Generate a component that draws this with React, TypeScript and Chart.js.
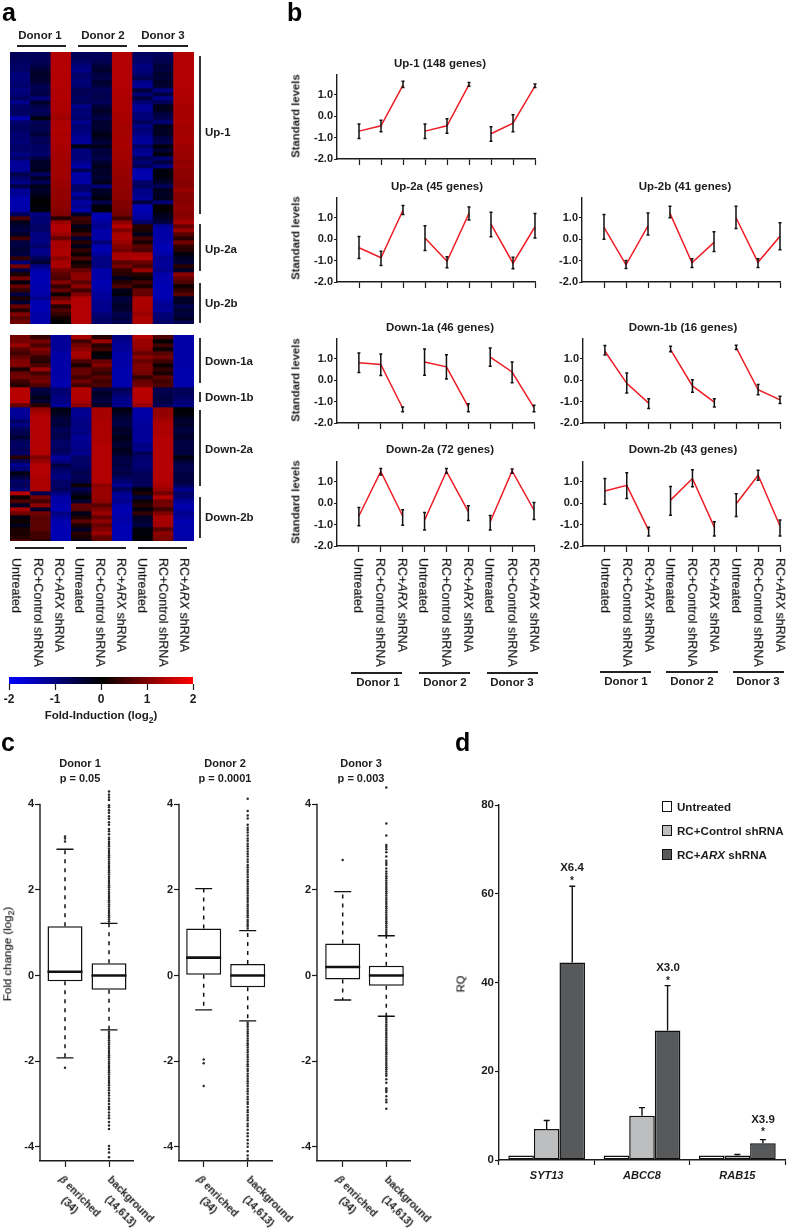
import React, { useEffect, useRef } from "react";
import { Chart, registerables } from "chart.js";
Chart.register(...registerables);

const FONT = '"Liberation Sans", Arial, sans-serif';
const INK = "#1c1c1c";

// ---------- panel a: heat map values (log2 fold induction), one row per band ----------
const heatColumns = ["D1 Untreated", "D1 Control", "D1 ARX", "D2 Untreated", "D2 Control", "D2 ARX", "D3 Untreated", "D3 Control", "D3 ARX"];
const up1Rows = [
  [-.7,-.7,1.4,-.7,-.7,1.4,-.75,-.7,1.4],[-.7,-.7,1.4,-.7,-.7,1.4,-.8,-.65,1.4],[-.75,-.65,1.4,-.8,-.6,1.4,-.85,-.6,1.4],
  [-.8,-.55,1.4,-.95,-.45,1.4,-1,-.45,1.4],[-.8,-.4,1.4,-1.05,-.35,1.4,-.95,-.5,1.4],[-.95,-.3,1.4,-.8,-.5,1.4,-.85,-.35,1.4],
  [-.95,-.35,1.4,-.85,-.55,1.4,-.6,-.45,1.4],[-.9,-.4,1.4,-.95,-.35,1.4,-1.1,-.3,1.4],[-.85,-.65,1.4,-.85,-.5,1.4,-1.15,-.4,1.4],
  [-1,-.6,1.38,-.65,-.7,1.38,-.45,-1,1.38],[-.9,-.55,1.38,-.7,-.6,1.38,-.9,-.5,1.38],[-.75,-.95,1.38,-.75,-.6,1.35,-.5,-1.05,1.35],
  [-1.1,-.35,1.36,-.7,-.7,1.35,-.9,-.7,1.35],[-.8,-.55,1.36,-1.05,-.45,1.35,-1.2,-.2,1.32],[-.75,-.7,1.36,-.9,-.3,1.35,-1.15,-.25,1.3],
  [-.8,-.6,1.3,-.95,-.4,1.32,-.95,-.5,1.3],[-1.35,-.15,1.25,-.85,-.55,1.32,-.95,-.6,1.3],[-.85,-.7,1.35,-1.1,-.35,1.3,-.7,-.9,1.35],
  [-.75,-.6,1.35,-.9,-.4,1.28,-1.05,-.2,1.28],[-.75,-.65,1.38,-.95,-.35,1.3,-.9,-.3,1.28],[-.9,-.45,1.35,-1.05,-.15,1.28,-1.05,-.25,1.26],
  [-.85,-.7,1.35,-1.15,-.3,1.3,-1.2,-.55,1.3],[-.95,-.65,1.35,-1.2,-.45,1.3,-1.25,-.6,1.3],[-.8,-.8,1.3,-.15,-.2,1.3,-.8,-.1,1.25],
  [-.85,-.75,1.3,-.95,-.5,1.28,-1.1,-.4,1.22],[-1,-.85,1.28,-.95,-.45,1.28,-1.15,-.1,1.2],[-.8,-.5,1.28,-.95,-.6,1.26,-.7,-.85,1.2],
  [-1.2,-.3,1.26,-1.1,-.4,1.25,-.9,-.5,1.12],[-1.2,-.3,1.26,-1.3,-.2,1.22,-.7,-1,1.18],[-1.15,-.25,1.26,-.7,-.35,1.2,-1.35,-.1,1.1],
  [-.6,-.75,1.25,-1.3,-.3,1.18,-1.35,-.1,1.1],[-.85,-.3,1.25,-1.25,-.4,1.15,-1.35,-.15,1.1],[-1.05,-.7,1.2,-1.3,-.2,1.15,-.8,-.35,1.05],
  [-.55,-.2,1.2,-.8,-.9,1.15,-.75,-.7,1.05],[-1.2,-.35,1.15,-.85,-.3,1.12,-1.05,-.2,1.2],[-1.15,-.25,1.15,-1.25,-.25,1.1,-1.05,-.3,1.05],
  [-1.35,-.05,1.15,-.9,-.1,1.1,-1.2,-.2,1.05],[-1.35,0,1.12,-1.25,-.6,1,-.5,-.9,1.05],[-1.35,-.05,1.1,-1.1,-.1,1,-1.4,.05,1.1],
  [-1.3,-.1,1.05,-1.3,0,.95,-1.4,.05,1.1],[-.7,-1,1,-.3,-1.35,.9,-1.3,-.2,1.05],[.6,-.9,.3,.5,-1.4,.5,-1.2,-.3,1.1],
];
const up2aRows = [
  [-.2,-.9,1.2,.4,-1.2,1.1,-.8,-.5,1.3],[-.4,-.8,1.4,-.2,-1.1,1.4,.3,-1.2,.8],[-.5,-.8,1.4,.1,-1.3,1,.2,-1.3,1.2],
  [-.3,-1,1.2,.5,-1.3,1.3,-.2,-1.3,.7],[.5,-1,.8,-.4,-1.3,1.3,.5,-1.3,.3],[-.5,-1,1.3,.3,-.9,1.2,.2,-1.3,.9],
  [-.5,-.8,1.3,-.2,-1.35,1,.7,-1.4,.4],[-.4,-1.1,1.35,.4,-1.4,.9,.6,-1.4,.3],[-.5,-1,1.35,.1,-1.2,1.3,1.3,-1.3,-.1],
  [.4,-.7,1.1,.6,-1,1.3,1.4,-1.1,-.3],[-.9,-.4,1.3,.1,-1,.7,.8,-1.2,-.4],[.9,-1,1.3,.3,-1,.9,.6,-1.2,.3],[-.5,-1.3,.9,.8,-1.3,.4,1.2,-1.1,-.3],
];
const up2bRows = [
  [.2,-1.4,.7,1.1,-1.3,.3,.3,-1.3,1.1],[.9,-1.4,.6,1.1,-1.3,-.2,.1,-1.35,.8],[-.1,-1.4,1,.7,-1.4,.3,.5,-1.35,.6],
  [.8,-1.35,.4,1.1,-1.35,.6,.2,-1.4,.1],[.4,-1.35,.8,.5,-1.3,-.2,.8,-1.4,.4],[-.5,-1.3,.1,1,-1.2,-.1,.8,-1.4,.7],
  [.2,-1.1,.8,1.4,-1.2,-.5,1.35,-1.4,-.3],[-.4,-1.4,1.2,1.4,-1.1,-.4,1.35,-1.2,-.3],[.8,-1.4,.3,1.4,-1.1,-.3,1.35,-1.1,-.6],
  [.3,-1.4,.6,1.4,-1.1,-.4,1.3,-1.2,-.4],[1,-1.3,.4,1.4,-.9,-.6,1.2,-.9,-.5],[.7,-1.3,.1,1.4,-.8,-.5,1.35,-.9,-.3],[.9,-1.3,0,1.4,-.8,-.6,1.35,-.8,-.6],
];
const down1aRows = [
  [.9,.4,-1.2,1.3,.3,-1,1.4,.6,-1.3],[.9,.9,-1.2,.5,1.2,-1.1,1.2,0,-1.3],[1.2,.6,-1.2,.9,.3,-1.2,1.2,.5,-1.3],[.7,1,-1.2,1.1,.5,-1.2,1.1,.1,-1.3],
  [.5,.8,-1.3,1.3,0,-1.3,.8,.7,-1.3],[.8,.4,-1.3,1.2,-.1,-1.3,1.1,.9,-1.3],[1,.3,-1.3,.6,.8,-1.3,.8,.5,-1.3],[1,.6,-1.3,.2,1,-1.3,1,.1,-1.3],
  [.2,1.2,-1.3,.8,.6,-1.35,1,.4,-1.35],[.8,.5,-1.3,.8,.4,-1.35,.9,.2,-1.35],[.9,.8,-1.3,.5,.7,-1.35,.4,.7,-1.35],[.5,.9,-1.35,.9,.5,-1.35,.8,.5,-1.35],[.3,.6,-1.35,.5,.6,-1.35,.9,.6,-1.35],
];
const down1bRows = [
  [1.45,-.5,-.9,1.4,-.5,-.7,1.45,-.6,-.7],[1.45,-.45,-.9,1.4,-.3,-.8,1.45,-.6,-.7],[1.45,-.2,-1,1.4,-.4,-1,1.45,-.5,-.75],[1.4,-.4,-1,1.3,-.5,-1.05,1.4,-.55,-.9],[.8,.3,-1.2,1.1,-.3,-1.1,1.2,-.7,-1],
];
const down2aRows = [
  [-1.2,1.15,-.15,-1.1,1.3,-.1,-1.3,1.15,0],[-1.2,1.3,-.2,-1.15,1.3,-.25,-1.3,1.15,-.05],[-1.15,1.4,-.4,-1.1,1.3,-.4,-1.3,1.2,-.2],
  [-.8,1.4,-.5,-1,1.35,-.5,-1.25,1.3,-.4],[-1,1.4,-.45,-1,1.35,-.5,-1.2,1.35,-.3],[-.7,1.4,-.7,-1.05,1.35,-.3,-1.2,1.35,-.5],
  [-.6,1.4,-.6,-1,1.35,-.35,-1.2,1.35,-.45],[-.4,1.4,-.6,-1.2,1.35,-.2,-1.2,1.4,-.3],[-.7,1.4,-.8,-1.1,1.35,-.3,-1.2,1.4,-.5],
  [-.8,1.4,-.8,-1.1,1.4,-.4,-1,1.4,-.5],[-.7,1.4,-.7,-1,1.4,-.2,-1.1,1.4,-.5],[-.8,1.4,-.8,-1.1,1.4,-.3,-.7,1.4,-.5],
  [.3,1,-1.2,-.8,1.4,-.5,-.8,1.4,-.15],[-.7,1.2,-1,-.8,1.4,-.55,-.9,1.4,-.4],[-1.1,1.4,-.5,-.8,1.4,-.5,-.9,1.4,-.6],
  [-.9,1.4,-.8,-.7,1.4,-.6,-.8,1.4,-.6],[-.15,1.4,-.9,-.6,1.4,-.5,-.7,1.4,-.5],[-.5,1.35,-1,-.7,1.4,-.7,-.7,1.4,-.5],
  [-.8,1.35,-.8,-.6,1.4,-.9,-.7,1.4,-.5],[-.7,1.35,-.8,.1,1.1,-1.1,-.7,1.35,-.7],[-.9,1.35,-.7,-.6,1.2,-.7,-.1,1.2,-1.1],
];
const down2bRows = [
  [1.4,-.6,-1,-.3,1.2,-1.1,.2,.9,-.8],[.1,.9,-1.3,0,1.2,-1.2,-.5,1.4,-.9],[.6,.5,-1.3,-.4,1.1,-1.1,.1,.9,-1.2],[-.3,1.1,-1.35,.8,.7,-1.3,.3,.9,-1.35],
  [1.3,-.3,-1.4,.7,1,-1.4,-.1,.5,-1.3],[.9,.9,-1,-.2,1.2,-1.35,.4,1,-1.1],[-.1,.7,-1.2,.2,.8,-1.3,-.3,1.3,-1.2],[.1,.7,-1.35,.7,1.1,-1.3,-.4,1.3,-1.4],
  [-.2,.7,-1.4,.2,.8,-1.4,-.5,1.25,-1.3],[.2,.7,-1.4,-.3,1,-1.4,-.1,.7,-1.35],[.2,.5,-1.4,.3,1.2,-1.4,-.1,1.1,-1.35],[.3,.5,-1.4,.2,.8,-1.4,0,1,-1.3],[.6,.2,-1.4,-.2,.7,-1.4,-.1,.9,-1.3],
];

// ---------- panel b: standard levels (mean, low, high) ----------
const yTicksB = [-2, -1, 0, 1];
const up1Mean = [-.7,-.45,1.45,-.7,-.45,1.47,-.82,-.33,1.4];
const up1Low = [-1.04,-.73,1.34,-1.04,-.8,1.4,-1.17,-.73,1.34];
const up1High = [-.37,-.19,1.63,-.37,-.12,1.57,-.5,.06,1.5];
const up2aMean = [-.4,-.87,1.35,.05,-1.03,1.2,.7,-1.12,.58];
const up2aLow = [-.9,-1.23,1.15,-.53,-1.34,.89,.11,-1.38,.05];
const up2aHigh = [.12,-.56,1.57,.62,-.82,1.5,1.26,-.85,1.2];
const up2bMean = [.55,-1.2,.62,1.2,-1.1,-.15,1,-1.08,.13];
const up2bLow = [0,-1.37,.19,1,-1.32,-.58,.5,-1.32,-.5];
const up2bHigh = [1.15,-1,1.22,1.53,-.92,.34,1.53,-.92,.77];
const down1aMean = [.81,.73,-1.3,.85,.62,-1.25,1.07,.38,-1.28];
const down1aLow = [.36,.22,-1.47,.23,.05,-1.47,.65,-.12,-1.47];
const down1aHigh = [1.27,1.22,-1.25,1.45,1.18,-1.1,1.5,.85,-1.17];
const down1bMean = [1.35,-.15,-1.07,1.42,-.27,-1.03,1.52,-.45,-.92];
const down1bLow = [1.17,-.6,-1.32,1.32,-.57,-1.25,1.43,-.68,-1.09];
const down1bHigh = [1.62,.33,-.87,1.58,.02,-.87,1.63,-.2,-.75];
const down2aMean = [-.6,1.48,-.6,-.8,1.48,-.4,-.87,1.5,-.33];
const down2aLow = [-1.06,1.31,-1.03,-1.25,1.39,-.81,-1.25,1.4,-.76];
const down2aHigh = [-.2,1.62,-.31,-.44,1.62,-.12,-.58,1.59,.03];
const down2bMean = [.57,.83,-1.27,.14,1.15,-1.12,-.03,1.3,-1.07];
const down2bLow = [-.05,.22,-1.53,-.56,.76,-1.53,-.62,1.07,-1.53];
const down2bHigh = [1.15,1.42,-1.12,.78,1.56,-.87,.44,1.53,-.79];

// ---------- panel c: box plots ----------
const yTicksC = [-4, -2, 0, 2, 4];
// [whisker low, q1, median, q3, whisker high]
const d1Beta = [-1.92, -.13, .09, 1.15, 2.95];
const d1Back = [-1.27, -.33, 0, .29, 1.22];
const d2Beta = [-.8, .02, .42, 1.1, 2.03];
const d2Back = [-1.06, -.27, 0, .27, 1.05];
const d3Beta = [-.57, -.09, .2, .75, 1.96];
const d3Back = [-.95, -.24, 0, .23, .93];
const d1BetaOut = [3.13, 3.2, 3.25, -2.15];
const d1BackOut = [1.26,1.31,1.36,1.41,1.46,1.51,1.56,1.61,1.66,1.71,1.76,1.81,1.86,1.91,1.96,2.01,2.06,2.11,2.16,2.21,2.26,2.31,2.36,2.41,2.46,2.51,2.56,2.61,2.66,2.71,2.76,2.81,2.86,2.91,2.96,3.02,3.07,3.12,3.18,3.22,3.3,3.37,3.42,3.52,3.58,3.66,3.72,3.8,3.86,3.93,3.98,4.1,4.16,4.22,4.3,
  -1.31,-1.36,-1.41,-1.46,-1.51,-1.56,-1.61,-1.66,-1.71,-1.76,-1.81,-1.86,-1.91,-1.96,-2.01,-2.06,-2.11,-2.16,-2.21,-2.26,-2.31,-2.36,-2.41,-2.46,-2.51,-2.56,-2.62,-2.68,-2.74,-2.8,-2.87,-2.93,-3,-3.07,-3.12,-3.2,-3.27,-3.33,-3.42,-3.5,-3.58,-3.98,-4.05,-4.13,-4.24];
const d2BetaOut = [-1.96, -2.05, -2.58];
const d2BackOut = [1.1,1.15,1.2,1.25,1.3,1.36,1.41,1.46,1.51,1.56,1.61,1.66,1.72,1.77,1.82,1.87,1.93,1.98,2.03,2.08,2.14,2.19,2.24,2.3,2.36,2.42,2.47,2.53,2.58,2.65,2.71,2.78,2.84,2.9,2.96,3.02,3.08,3.15,3.2,3.27,3.34,3.4,3.45,3.52,3.67,3.74,3.84,4.13,
  -1.1,-1.15,-1.2,-1.26,-1.31,-1.36,-1.41,-1.47,-1.52,-1.58,-1.63,-1.68,-1.74,-1.79,-1.85,-1.9,-1.96,-2.01,-2.07,-2.12,-2.18,-2.23,-2.29,-2.35,-2.41,-2.47,-2.52,-2.58,-2.64,-2.7,-2.76,-2.83,-2.89,-2.95,-3,-3.07,-3.14,-3.19,-3.26,-3.32,-3.38,-3.46,-3.52,-3.6,-3.68,-3.75,-3.84,-3.92,-4,-4.1,-4.2,-4.28];
const d3BetaOut = [2.7];
const d3BackOut = [.97,1.02,1.07,1.12,1.17,1.22,1.27,1.32,1.37,1.42,1.47,1.52,1.57,1.62,1.67,1.72,1.77,1.82,1.87,1.92,1.97,2.02,2.07,2.12,2.17,2.22,2.27,2.32,2.38,2.43,2.5,2.58,2.63,2.68,2.78,2.88,2.95,3,3.05,3.27,3.55,4.39,
  -.99,-1.04,-1.09,-1.14,-1.19,-1.24,-1.29,-1.34,-1.39,-1.44,-1.49,-1.54,-1.59,-1.64,-1.69,-1.74,-1.79,-1.84,-1.89,-1.94,-1.99,-2.04,-2.09,-2.14,-2.19,-2.24,-2.29,-2.34,-2.42,-2.5,-2.63,-2.68,-2.72,-2.82,-2.9,-2.96,-3.11];

// ---------- panel d: RQ ----------
const genes = ["SYT13", "ABCC8", "RAB15"];
const yTicksD = [0, 20, 40, 60, 80];
const untreated = [1, 1, 1];
const controlSh = [7, 10, 1];
const arxSh = [44.5, 29.2, 3.8];
const untreatedErrTop = [1, 1, 1];
const controlErrTop = [8.9, 11.8, 1.25];
const arxErrTop = [61.7, 39.3, 4.6];

const heatColor = (v: number) => {
  const c = Math.round(Math.min(Math.abs(v) / 2, 1) * 255);
  return v >= 0 ? `rgb(${c},0,0)` : `rgb(0,0,${c})`;
};

type Box = { left: number; top: number; w: number; h: number; ml: number; mt: number; mr: number; mb: number };

function ChartBox({ box, make }: { box: Box; make: () => any }) {
  const ref = useRef<HTMLCanvasElement>(null);
  useEffect(() => {
    const cfg = make();
    cfg.options = {
      responsive: false,
      maintainAspectRatio: false,
      animation: false,
      devicePixelRatio: 1,
      layout: { padding: { left: 0, top: box.mt, right: box.mr, bottom: 0 } },
      ...cfg.options,
    };
    cfg.options.plugins = { legend: { display: false }, tooltip: { enabled: false }, ...(cfg.options.plugins || {}) };
    const chart = new Chart(ref.current as HTMLCanvasElement, cfg);
    return () => chart.destroy();
  }, []);
  return (
    <canvas
      ref={ref}
      width={box.ml + box.w + box.mr}
      height={box.mt + box.h + box.mb}
      style={{ position: "absolute", left: box.left - box.ml, top: box.top - box.mt, width: box.ml + box.w + box.mr, height: box.mt + box.h + box.mb }}
    />
  );
}

const yAxis = (box: Box, min: number, max: number, ticks: number[], size: number, tickLen: number, cb?: (v: number) => string) => ({
  type: "linear",
  position: "left",
  min,
  max,
  afterBuildTicks: (s: any) => { s.ticks = ticks.map((value) => ({ value })); },
  afterFit: (s: any) => { s.width = box.ml; },
  border: { display: true, color: INK, width: 1.4 },
  grid: { offset: false, drawOnChartArea: false, drawTicks: true, tickLength: tickLen, color: INK, tickWidth: 1.2 },
  ticks: { color: INK, padding: 1, autoSkip: false, font: { family: FONT, weight: "bold", size }, callback: cb || ((v: number) => String(v)) },
});

const xLinear = (box: Box, min: number, max: number, ticks: number[], tickLen: number) => ({
  type: "linear",
  position: "bottom",
  offset: false,
  min,
  max,
  afterBuildTicks: (s: any) => { s.ticks = ticks.map((value) => ({ value })); },
  afterFit: (s: any) => { s.height = box.mb; },
  border: { display: true, color: INK, width: 1.4 },
  grid: { offset: false, drawOnChartArea: false, drawTicks: true, tickLength: tickLen, color: INK, tickWidth: 1.2 },
  ticks: { display: false, autoSkip: false },
});

function heatConfig(rows: number[][]) {
  return () => ({
    type: "bar",
    data: {
      labels: heatColumns,
      datasets: rows.map((r) => ({
        data: r.map(() => 1),
        backgroundColor: r.map(heatColor),
        borderWidth: 0,
        barPercentage: 1,
        categoryPercentage: 1,
      })),
    },
    options: {
      layout: { padding: 0 },
      scales: {
        x: { stacked: true, display: false },
        y: { stacked: true, display: false, reverse: true, min: 0, max: rows.length === 52 ? 51.5 : rows.length },
      },
    },
  });
}

const xPositions = [1, 2, 3, 4, 5, 6, 7, 8, 9];

function levelConfig(box: Box, mean: number[], low: number[], high: number[]) {
  return () => ({
    type: "line",
    data: {
      datasets: [0, 3, 6].map((s) => ({
        data: [0, 1, 2].map((i) => ({ x: xPositions[s + i], y: mean[s + i] })),
        borderColor: "#ee1c25",
        borderWidth: 1.5,
        pointRadius: 0,
        tension: 0,
      })),
    },
    options: {
      scales: {
        x: xLinear(box, 0, 9, xPositions, 6),
        y: yAxis(box, -2, 1.92, yTicksB, 11, 3, (v: number) => v.toFixed(1)),
      },
    },
    plugins: [{
      id: "errs",
      afterDatasetsDraw(c: any) {
        const g = c.ctx;
        g.save();
        g.strokeStyle = "#111";
        g.lineWidth = 1.5;
        xPositions.forEach((p, i) => {
          const x = c.scales.x.getPixelForValue(p);
          const a = c.scales.y.getPixelForValue(low[i]);
          const b = c.scales.y.getPixelForValue(high[i]);
          g.beginPath();
          g.moveTo(x, a); g.lineTo(x, b);
          g.moveTo(x - 1.5, a); g.lineTo(x + 1.5, a);
          g.moveTo(x - 1.5, b); g.lineTo(x + 1.5, b);
          g.stroke();
        });
        g.restore();
      },
    }],
  });
}

function boxConfig(box: Box, xMin: number, xMax: number, beta: number[], back: number[], betaOut: number[], backOut: number[]) {
  const stats = [beta, back];
  const y = yAxis(box, -4.33, 4.45, yTicksC, 11, 5);
  y.border = { display: false, color: INK, width: 1.4 };
  return () => ({
    type: "bar",
    data: {
      datasets: [
        {
          type: "scatter",
          data: [...betaOut.map((v) => ({ x: 1, y: v })), ...backOut.map((v) => ({ x: 2, y: v }))],
          pointRadius: 1.25,
          pointBackgroundColor: "#2a2a2a",
          pointBorderWidth: 0,
        },
        {
          type: "bar",
          data: stats.map((s, i) => ({ x: i + 1, y: [s[1], s[3]] })),
          backgroundColor: "#ffffff",
          borderColor: "#111",
          borderWidth: 1.5,
          borderSkipped: false,
          barThickness: 35,
          inflateAmount: 0,
        },
      ],
    },
    options: {
      scales: {
        x: xLinear(box, xMin, xMax, [1, 2], 6),
        y,
      },
    },
    plugins: [{
      id: "boxParts",
      afterDatasetsDraw(c: any) {
        const g = c.ctx;
        const Y = c.scales.y;
        const X = c.scales.x;
        g.save();
        g.strokeStyle = INK;
        g.lineWidth = 1.4;
        g.beginPath();
        g.moveTo(c.chartArea.left, Y.getPixelForValue(4) - 0.6);
        g.lineTo(c.chartArea.left, c.chartArea.bottom);
        g.stroke();
        stats.forEach((s, i) => {
          const x = X.getPixelForValue(i + 1);
          g.strokeStyle = "#111";
          g.lineWidth = 1.5;
          g.setLineDash([4, 5]);
          g.beginPath();
          g.moveTo(x, Y.getPixelForValue(s[3])); g.lineTo(x, Y.getPixelForValue(s[4]));
          g.moveTo(x, Y.getPixelForValue(s[1])); g.lineTo(x, Y.getPixelForValue(s[0]));
          g.stroke();
          g.setLineDash([]);
          g.lineWidth = 1.3;
          g.beginPath();
          [s[0], s[4]].forEach((v) => {
            g.moveTo(x - 8.5, Y.getPixelForValue(v)); g.lineTo(x + 8.5, Y.getPixelForValue(v));
          });
          g.stroke();
          g.lineWidth = 2.6;
          g.beginPath();
          g.moveTo(x - 17.5, Y.getPixelForValue(s[2])); g.lineTo(x + 17.5, Y.getPixelForValue(s[2]));
          g.stroke();
        });
        g.restore();
      },
    }],
  });
}

function rqConfig(box: Box) {
  const tops = [untreatedErrTop, controlErrTop, arxErrTop];
  const ds = (data: number[], fill: string) => ({
    data,
    backgroundColor: fill,
    borderColor: "#111",
    borderWidth: 1.5,
    borderSkipped: false,
    barPercentage: 1,
    categoryPercentage: 0.805,
    inflateAmount: 0,
  });
  return () => ({
    type: "bar",
    data: { labels: genes, datasets: [ds(untreated, "#ffffff"), ds(controlSh, "#bcbec0"), ds(arxSh, "#58595b")] },
    options: {
      scales: {
        x: {
          type: "category",
          position: "bottom",
          afterFit: (s: any) => { s.height = box.mb; },
          border: { display: true, color: INK, width: 1.4 },
          grid: { offset: true, drawOnChartArea: false, drawTicks: true, tickLength: 5, color: INK, tickWidth: 1.2 },
          ticks: { color: INK, padding: 4, maxRotation: 0, font: { family: FONT, weight: "bold", style: "italic", size: 11 } },
        },
        y: yAxis(box, 0, 80, yTicksD, 11.5, 4),
      },
    },
    plugins: [{
      id: "rqErr",
      afterDatasetsDraw(c: any) {
        const g = c.ctx;
        g.save();
        g.strokeStyle = "#111";
        g.lineWidth = 1.4;
        [1, 2].forEach((d) => {
          c.getDatasetMeta(d).data.forEach((bar: any, j: number) => {
            const y = c.scales.y.getPixelForValue(tops[d][j]);
            g.beginPath();
            g.moveTo(bar.x, bar.y); g.lineTo(bar.x, y);
            g.moveTo(bar.x - 3, y); g.lineTo(bar.x + 3, y);
            g.stroke();
          });
        });
        g.restore();
      },
    }],
  });
}

function scaleBarConfig(box: Box) {
  return () => ({
    type: "bar",
    data: {
      labels: ["Fold-Induction"],
      datasets: [{
        data: [[-2, 2]],
        borderWidth: 0,
        barPercentage: 1,
        categoryPercentage: 1,
        backgroundColor: (ctx: any) => {
          const { chart } = ctx;
          const a = chart.chartArea;
          if (!a) return "#000";
          const g = chart.ctx.createLinearGradient(a.left, 0, a.right, 0);
          g.addColorStop(0, "#0000ff");
          g.addColorStop(0.5, "#000000");
          g.addColorStop(1, "#ff0000");
          return g;
        },
      }],
    },
    options: {
      indexAxis: "y",
      layout: { padding: { left: box.ml, top: 0, right: box.mr, bottom: 0 } },
      scales: {
        y: { type: "category", display: false },
        x: {
          type: "linear",
          position: "bottom",
          min: -2,
          max: 2,
          afterBuildTicks: (s: any) => { s.ticks = [-2, -1, 0, 1, 2].map((value) => ({ value })); },
          afterFit: (s: any) => { s.height = box.mb; },
          border: { display: false },
          grid: { offset: false, drawOnChartArea: false, drawTicks: true, tickLength: 6, color: INK, tickWidth: 1.2 },
          ticks: { color: INK, padding: 2, maxRotation: 0, autoSkip: false, font: { family: FONT, weight: "bold", size: 12 } },
        },
      },
    },
  });
}

function T({ x, y, s = 11, w = 700, i = false, rot = 0, c = INK, left = false, stroke = 0, children }: any) {
  return (
    <span
      style={{
        position: "absolute", left: x, top: y, font: `${i ? "italic " : ""}${w} ${s}px/1 ${FONT}`, color: c, whiteSpace: "nowrap",
        transform: `translate(${left ? "0" : "-50%"},-50%) rotate(${rot}deg)`, willChange: "transform",
        WebkitTextStroke: stroke ? `${stroke}px ${c}` : undefined,
      }}
    >{children}</span>
  );
}
// rotated 90 degrees clockwise: text starts at y and runs downward, centred on x
function Down({ x, y, children }: any) {
  return (
    <span
      style={{
        position: "absolute", left: x, top: y, font: `400 12.5px/1 ${FONT}`, color: "#111", whiteSpace: "nowrap",
        transformOrigin: "0 0", transform: "rotate(90deg) translateY(-50%)", WebkitTextStroke: "0.2px #111", willChange: "transform",
      }}
    >{children}</span>
  );
}
const Rule = ({ x1, x2, y, h = 1.2 }: any) => <div style={{ position: "absolute", left: x1, width: x2 - x1, top: y - h / 2, height: h, background: "#222" }} />;
const Bracket = ({ x = 200, y1, y2 }: any) => <div style={{ position: "absolute", left: x - 0.75, width: 1.5, top: y1, height: y2 - y1, background: "#333" }} />;
const Sub = ({ children }: any) => <sub style={{ lineHeight: 0, fontSize: "75%" }}>{children}</sub>;

const TreatmentLabels = ({ xs, y }: { xs: number[]; y: number }) => (
  <>
    {xs.map((x, i) => (
      <Down key={i} x={x} y={y}>
        {i % 3 === 0 ? "Untreated" : i % 3 === 1 ? "RC+Control shRNA" : <>RC+<i>ARX</i> shRNA</>}
      </Down>
    ))}
  </>
);

const boxOf = (left: number, top: number, w: number, h: number, ml = 42, mt = 10, mr = 6, mb = 9): Box => ({ left, top, w, h, ml, mt, mr, mb });

const levelPanels = [
  { t: "Up-1 (148 genes)", tx: 440, ty: 64, b: boxOf(337, 75, 198, 84), m: up1Mean, l: up1Low, h: up1High, yl: 116 },
  { t: "Up-2a (45 genes)", tx: 437, ty: 187, b: boxOf(337, 198, 198, 84), m: up2aMean, l: up2aLow, h: up2aHigh, yl: 238 },
  { t: "Up-2b (41 genes)", tx: 685, ty: 187, b: boxOf(582, 198, 198, 84), m: up2bMean, l: up2bLow, h: up2bHigh },
  { t: "Down-1a (46 genes)", tx: 440, ty: 328, b: boxOf(337, 339, 197, 84), m: down1aMean, l: down1aLow, h: down1aHigh, yl: 380 },
  { t: "Down-1b (16 genes)", tx: 683, ty: 328, b: boxOf(583, 339, 197, 84), m: down1bMean, l: down1bLow, h: down1bHigh },
  { t: "Down-2a (72 genes)", tx: 440, ty: 450, b: boxOf(337, 462, 197, 84), m: down2aMean, l: down2aLow, h: down2aHigh, yl: 502 },
  { t: "Down-2b (43 genes)", tx: 683, ty: 450, b: boxOf(583, 462, 197, 84), m: down2bMean, l: down2bLow, h: down2bHigh },
];

const boxPanels = [
  { left: 40, c1: 65, c2: 109, title: "Donor 1", p: "p = 0.05", tx: 80, s: [d1Beta, d1Back, d1BetaOut, d1BackOut] },
  { left: 179, c1: 203.7, c2: 247.7, title: "Donor 2", p: "p = 0.0001", tx: 225, s: [d2Beta, d2Back, d2BetaOut, d2BackOut] },
  { left: 317, c1: 342.7, c2: 386.3, title: "Donor 3", p: "p = 0.003", tx: 360.5, s: [d3Beta, d3Back, d3BetaOut, d3BackOut] },
];

const legendRows = [
  { y: 806.7, fill: "#ffffff", label: <>Untreated</> },
  { y: 830.7, fill: "#bcbec0", label: <>RC+Control shRNA</> },
  { y: 854.7, fill: "#58595b", label: <>RC+<i>ARX</i> shRNA</> },
];

export default function App() {
  const upperHeat: Box = { left: 10, top: 52, w: 184, h: 272, ml: 0, mt: 0, mr: 0, mb: 0 };
  const lowerHeat: Box = { left: 10, top: 335, w: 184, h: 206, ml: 0, mt: 0, mr: 0, mb: 0 };
  const barBox: Box = { left: 9, top: 677, w: 184, h: 7, ml: 9, mt: 0, mr: 8, mb: 22 };
  const rqBox = boxOf(499, 805, 286, 355, 42, 10, 2, 24);
  return (
    <div style={{ position: "absolute", left: 0, top: 0, width: 787, height: 1230, overflow: "hidden", background: "#fff" }}>
      <T x={2} y={12} s={25} left c="#000">a</T>
      <T x={287} y={12} s={25} left c="#000">b</T>
      <T x={1} y={742} s={25} left c="#000">c</T>
      <T x={455} y={742} s={25} left c="#000">d</T>

      {/* panel a */}
      <T x={40} y={36} s={11.5}>Donor 1</T>
      <T x={103} y={36} s={11.5}>Donor 2</T>
      <T x={163} y={36} s={11.5}>Donor 3</T>
      <Rule x1={17} x2={66} y={46} />
      <Rule x1={78} x2={127} y={46} />
      <Rule x1={138} x2={188} y={46} />
      <ChartBox box={upperHeat} make={heatConfig([...up1Rows, ...up2aRows, ...up2bRows])} />
      <ChartBox box={lowerHeat} make={heatConfig([...down1aRows, ...down1bRows, ...down2aRows, ...down2bRows])} />
      <Bracket y1={56} y2={214} />
      <Bracket y1={224} y2={271} />
      <Bracket y1={283} y2={323} />
      <Bracket y1={338} y2={383} />
      <Bracket y1={392} y2={402} />
      <Bracket y1={410} y2={486} />
      <Bracket y1={497} y2={538} />
      <T x={204.5} y={133} s={11.5} left>Up-1</T>
      <T x={204.5} y={250} s={11.5} left>Up-2a</T>
      <T x={204.5} y={303.5} s={11.5} left>Up-2b</T>
      <T x={204.5} y={361.5} s={11.5} left>Down-1a</T>
      <T x={204.5} y={397.5} s={11.5} left>Down-1b</T>
      <T x={204.5} y={449.5} s={11.5} left>Down-2a</T>
      <T x={204.5} y={517.5} s={11.5} left>Down-2b</T>
      <Rule x1={15} x2={64} y={548} />
      <Rule x1={76} x2={126} y={548} />
      <Rule x1={138} x2={187} y={548} />
      <TreatmentLabels xs={[16, 37.5, 58.5, 78.5, 100, 121, 141.5, 162.5, 183.5]} y={558} />
      <ChartBox box={barBox} make={scaleBarConfig(barBox)} />
      <T x={101} y={715.5} s={11.5}>Fold-Induction (log<Sub>2</Sub>)</T>

      {/* panel b */}
      {levelPanels.map((p) => (
        <React.Fragment key={p.t}>
          <T x={p.tx} y={p.ty} s={11.5}>{p.t}</T>
          <ChartBox box={p.b} make={levelConfig(p.b, p.m, p.l, p.h)} />
          {p.yl ? <T x={295.5} y={p.yl} s={11.3} rot={-90}>Standard levels</T> : null}
        </React.Fragment>
      ))}
      <TreatmentLabels xs={[357.5, 380, 401.5, 423, 445.5, 467.5, 488.5, 511.5, 533.5]} y={558} />
      <TreatmentLabels xs={[604.5, 626.5, 648.5, 669.5, 692, 714, 735.5, 758, 780]} y={558} />
      <Rule x1={351} x2={402} y={673} />
      <Rule x1={419} x2={470} y={673} />
      <Rule x1={487} x2={538} y={673} />
      <Rule x1={600} x2={651} y={672} />
      <Rule x1={666} x2={718} y={672} />
      <Rule x1={733} x2={784} y={672} />
      <T x={378} y={683} s={11.5}>Donor 1</T>
      <T x={445} y={683} s={11.5}>Donor 2</T>
      <T x={512} y={683} s={11.5}>Donor 3</T>
      <T x={626} y={682} s={11.5}>Donor 1</T>
      <T x={692} y={682} s={11.5}>Donor 2</T>
      <T x={758} y={682} s={11.5}>Donor 3</T>

      {/* panel c */}
      <T x={8} y={954} s={11.5} w={400} rot={-90} stroke={0.2}>Fold change (log<Sub>2</Sub>)</T>
      {boxPanels.map((p) => {
        const b = boxOf(p.left, 785, 93, 376, 30, 8, 4, 9);
        const minX = 1 - (p.c1 - p.left) / (p.c2 - p.c1);
        const maxX = minX + 93 / (p.c2 - p.c1);
        return (
          <React.Fragment key={p.title}>
            <T x={p.tx} y={763} s={11}>{p.title}</T>
            <T x={p.tx} y={777.5} s={11}>{p.p}</T>
            <ChartBox box={b} make={boxConfig(b, minX, maxX, p.s[0], p.s[1], p.s[2], p.s[3])} />
            <T x={p.c1 + 14.5} y={1196} s={10.5} rot={45}><i>β</i> enriched</T>
            <T x={p.c1 + 5} y={1204.5} s={10.5} rot={45}>(34)</T>
            <T x={p.c2 + 21.8} y={1199} s={10.5} rot={45}>background</T>
            <T x={p.c2 + 11.7} y={1210.7} s={10.5} rot={45}>(14,613)</T>
          </React.Fragment>
        );
      })}

      {/* panel d */}
      <T x={460.7} y={983.5} s={11} w={400} rot={-90} stroke={0.2}>RQ</T>
      <ChartBox box={rqBox} make={rqConfig(rqBox)} />
      {legendRows.map((r) => (
        <React.Fragment key={r.y}>
          <div style={{ position: "absolute", left: 661.7, top: r.y - 5.5, width: 8.5, height: 8.5, border: "1.4px solid #111", background: r.fill }} />
          <T x={676.5} y={r.y} s={11.6} left>{r.label}</T>
        </React.Fragment>
      ))}
      <T x={572} y={868} s={11.5}>X6.4</T>
      <T x={572} y={881} s={10}>*</T>
      <T x={667.5} y={968} s={11.5}>X3.0</T>
      <T x={667.5} y={981} s={10}>*</T>
      <T x={762.5} y={1120} s={11.5}>X3.9</T>
      <T x={762.5} y={1132} s={10}>*</T>
    </div>
  );
}
